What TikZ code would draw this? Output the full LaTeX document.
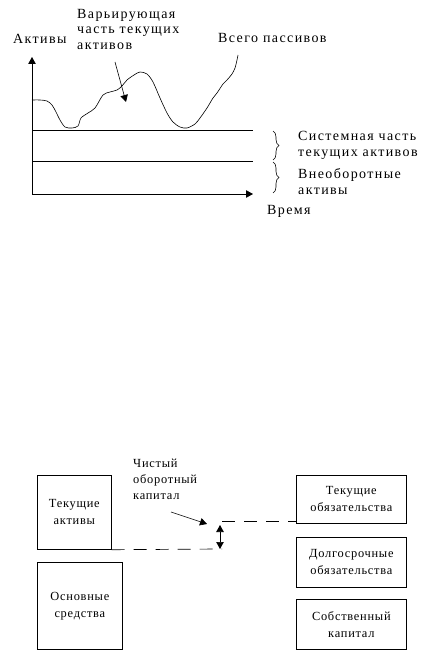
\documentclass[tikz,border=0pt]{standalone}
\usepackage{fontspec}
\setmainfont{Liberation Serif}[LetterSpace=6]
\newfontfamily\widefont{Liberation Serif}[LetterSpace=10]
\usetikzlibrary{
  arrows.meta,              % Triangle arrow tips
  decorations.pathreplacing,% braces
  positioning               % relative placement
}

\tikzset{
  lbl/.style={anchor=west, align=left, inner sep=0pt, font=\widefont\fontsize{14}{15.5}\selectfont},
  box/.style={draw, line width=0.7pt, align=center, inner sep=0pt, anchor=north west,
              font=\fontsize{12.4}{17}\selectfont},
  gap/.style={line width=0.7pt, dash pattern=on 13pt off 9pt},
}

\begin{document}
\begin{tikzpicture}[>={Triangle[length=7pt,width=7.5pt]}, x=1pt, y=-1pt]
  \useasboundingbox (0,0) rectangle (444,650);

  % === upper chart: axes ===
  \coordinate (o) at (32,194);
  \coordinate (ytip) at (32,57);
  \coordinate (xtip) at (253,194);
  \draw[line width=0.8pt, ->] (o) -- (ytip);
  \draw[line width=0.8pt, ->] (o) -- (xtip);

  % levels of the two constant parts
  \draw[line width=0.7pt] (32,130) -- (253,130);
  \draw[line width=0.7pt] (32,161) -- (253,161);

  % total liabilities curve
  \draw[line width=0.6pt] plot[smooth, tension=0.5] coordinates {
    (32,100) (40,100) (47,101) (52,105) (56,112) (60,120) (65,127) (72,128) (78,126)
    (81,118) (88,113) (95,108) (103,95) (110,92) (117,90) (122,86) (127,80)
    (134,75) (140,72) (147,74) (153,82) (160,98) (167,113) (173,122) (180,127)
    (187,128) (195,124) (200,118) (207,108) (213,98) (217,93) (223,84) (227,80)
    (232,74) (235,68) (237,60) (238,55)};

  % braces
  \draw[line width=0.6pt, decorate, decoration={brace, amplitude=6pt}] (273,131) -- (273,160);
  \draw[line width=0.6pt, decorate, decoration={brace, amplitude=6pt}] (273,162) -- (273,193);

  % labels
  \node[lbl] (aktivy) at (13,39) {Активы};
  \node[lbl] (var) at (77,29) {Варьирующая\\часть текущих\\активов};
  \node[lbl] (vsego) at (218,38) {Всего пассивов};
  \node[lbl, font=\widefont\fontsize{14}{16}\selectfont] (sys) at (298,145) {Системная часть\\текущих активов};
  \node[lbl, font=\widefont\fontsize{14}{16}\selectfont] (vne) at (298,182) {Внеоборотные\\активы};
  \node[lbl] (vremya) at (267,211) {Время};

  \coordinate (varend) at (126,102);
  \draw[line width=0.6pt, ->] (115,62) -- (varend);

  % === lower scheme: balance sheet ===
  \node[box, minimum width=74pt, minimum height=74pt] (ta) at (37,475) {Текущие\\активы};
  \node[box, minimum width=85pt, minimum height=87pt] (os) at (37,562) {Основные\\средства};
  \node[box, minimum width=110pt, minimum height=48pt] (to) at (296,475) {Текущие\\обязательства};
  \node[box, minimum width=110pt, minimum height=50pt] (do) at (296,537) {Долгосрочные\\обязательства};
  \node[box, minimum width=110pt, minimum height=50pt] (sk) at (296,599) {Собственный\\капитал};

  % net working capital gap
  \coordinate (low) at (222,549);
  \coordinate (high) at (222,521);
  \draw[gap] (ta.south east) -- (low);
  \draw[gap] (high) -- (to.south west |- high);
  \draw[line width=0.7pt, <->] (220,525) -- (220,549);

  \node[lbl, font=\fontsize{12.4}{16}\selectfont] (chok) at (133,479) {Чистый\\оборотный\\капитал};
  \draw[line width=0.6pt, ->] (171,512) -- (207,524);
\end{tikzpicture}
\end{document}
